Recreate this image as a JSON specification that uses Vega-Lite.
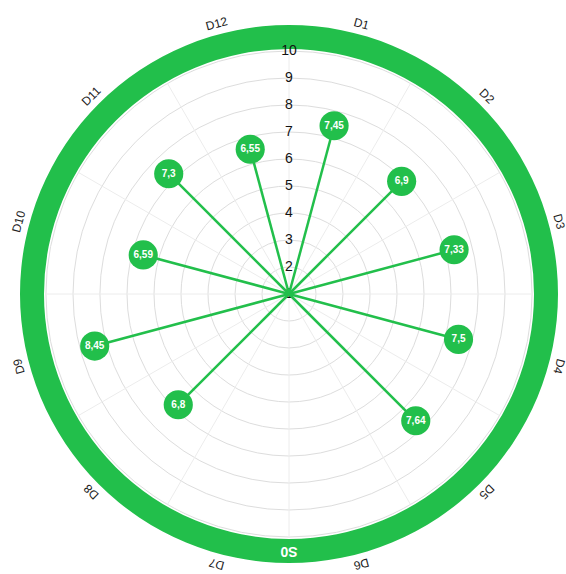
{
  "$schema": "https://vega.github.io/schema/vega-lite/v6.json",
  "width": 538,
  "height": 538,
  "autosize": {"type": "none"},
  "padding": {"left": 20, "top": 25, "right": 8, "bottom": 11},
  "background": "white",
  "config": {
    "view": {"stroke": null},
    "font": "Liberation Sans",
    "locale": {"number": {"decimal": ",", "thousands": ".", "grouping": [3], "currency": ["", " €"]}}
  },
  "datasets": {
    "dirs": [
      {"dir": "D1", "angle": 15, "value": 7.45},
      {"dir": "D2", "angle": 45, "value": 6.9},
      {"dir": "D3", "angle": 75, "value": 7.33},
      {"dir": "D4", "angle": 105, "value": 7.5},
      {"dir": "D5", "angle": 135, "value": 7.64},
      {"dir": "D6", "angle": 165, "value": null},
      {"dir": "D7", "angle": 195, "value": null},
      {"dir": "D8", "angle": 225, "value": 6.8},
      {"dir": "D9", "angle": 255, "value": 8.45},
      {"dir": "D10", "angle": 285, "value": 6.59},
      {"dir": "D11", "angle": 315, "value": 7.3},
      {"dir": "D12", "angle": 345, "value": 6.55}
    ],
    "levels": [
      {"level": 1}, {"level": 2}, {"level": 3}, {"level": 4}, {"level": 5},
      {"level": 6}, {"level": 7}, {"level": 8}, {"level": 9}, {"level": 10}
    ],
    "spokes": [
      {"a": 0}, {"a": 30}, {"a": 60}, {"a": 90}, {"a": 120}, {"a": 150},
      {"a": 180}, {"a": 210}, {"a": 240}, {"a": 270}, {"a": 300}, {"a": 330}
    ],
    "ring": [{"label": "S0", "angle": 180}]
  },
  "layer": [
    {
      "data": {"name": "levels"},
      "transform": [{"filter": "datum.level > 1"}],
      "mark": {"type": "arc", "filled": false, "fill": null, "stroke": "#dddddd", "strokeWidth": 1, "theta": 0, "theta2": 6.2832},
      "encoding": {
        "radius": {"field": "level", "type": "quantitative", "stack": null, "scale": {"type": "linear", "domain": [1, 10], "range": [0, 243], "zero": false, "nice": false}}
      }
    },
    {
      "data": {"name": "spokes"},
      "transform": [
        {"calculate": "9 * sin(datum.a * PI / 180)", "as": "sx"},
        {"calculate": "9 * cos(datum.a * PI / 180)", "as": "sy"}
      ],
      "mark": {"type": "rule", "color": "#ececec", "strokeWidth": 1},
      "encoding": {
        "x": {"field": "sx", "type": "quantitative", "scale": {"domain": [-9.963, 9.963], "nice": false, "zero": false}, "axis": null},
        "y": {"field": "sy", "type": "quantitative", "scale": {"domain": [-9.963, 9.963], "nice": false, "zero": false}, "axis": null},
        "x2": {"datum": 0},
        "y2": {"datum": 0}
      }
    },
    {
      "data": {"name": "ring"},
      "mark": {"type": "arc", "color": "#22bf4b", "theta": 0, "theta2": 6.2832},
      "encoding": {
        "radius": {"datum": 10.963, "type": "quantitative", "stack": null, "scale": {"type": "linear", "domain": [1, 10], "range": [0, 243], "zero": false, "nice": false}},
        "radius2": {"datum": 10.074}
      }
    },
    {
      "data": {"name": "levels"},
      "transform": [{"calculate": "datum.level - 1", "as": "ly"}],
      "mark": {"type": "text", "fontSize": 14, "color": "#111111", "baseline": "middle", "align": "center"},
      "encoding": {
        "x": {"datum": 0, "type": "quantitative"},
        "y": {"field": "ly", "type": "quantitative"},
        "text": {"field": "level", "type": "quantitative", "format": "d"}
      }
    },
    {
      "data": {"name": "dirs"},
      "transform": [
        {"filter": "isValid(datum.value)"},
        {"calculate": "(datum.value - 1) * sin(datum.angle * PI / 180)", "as": "px"},
        {"calculate": "(datum.value - 1) * cos(datum.angle * PI / 180)", "as": "py"}
      ],
      "layer": [
        {
          "mark": {"type": "rule", "color": "#22bf4b", "strokeWidth": 2.5},
          "encoding": {
            "x": {"field": "px", "type": "quantitative"},
            "y": {"field": "py", "type": "quantitative"},
            "x2": {"datum": 0},
            "y2": {"datum": 0}
          }
        },
        {
          "mark": {"type": "point", "shape": "circle", "filled": true, "color": "#22bf4b", "opacity": 1, "size": 850},
          "encoding": {
            "x": {"field": "px", "type": "quantitative"},
            "y": {"field": "py", "type": "quantitative"}
          }
        },
        {
          "mark": {"type": "text", "color": "white", "fontSize": 10, "fontWeight": "bold", "baseline": "middle", "align": "center"},
          "encoding": {
            "x": {"field": "px", "type": "quantitative"},
            "y": {"field": "py", "type": "quantitative"},
            "text": {"field": "value", "type": "quantitative", "format": ".3~g"}
          }
        }
      ]
    },
    {
      "data": {"name": "dirs"},
      "transform": [
        {"calculate": "10.36 * sin(datum.angle * PI / 180)", "as": "lx"},
        {"calculate": "10.36 * cos(datum.angle * PI / 180)", "as": "ly"}
      ],
      "mark": {"type": "text", "fontSize": 12, "color": "#222222", "baseline": "middle", "align": "center"},
      "encoding": {
        "x": {"field": "lx", "type": "quantitative"},
        "y": {"field": "ly", "type": "quantitative"},
        "angle": {"field": "angle", "type": "quantitative", "scale": null},
        "text": {"field": "dir", "type": "nominal"}
      }
    },
    {
      "data": {"name": "ring"},
      "transform": [
        {"calculate": "9.52 * sin(datum.angle * PI / 180)", "as": "rx"},
        {"calculate": "9.52 * cos(datum.angle * PI / 180)", "as": "ry"}
      ],
      "mark": {"type": "text", "fontSize": 14, "fontWeight": "bold", "color": "white", "baseline": "middle", "align": "center"},
      "encoding": {
        "x": {"field": "rx", "type": "quantitative"},
        "y": {"field": "ry", "type": "quantitative"},
        "angle": {"field": "angle", "type": "quantitative", "scale": null},
        "text": {"field": "label", "type": "nominal"}
      }
    }
  ]
}
